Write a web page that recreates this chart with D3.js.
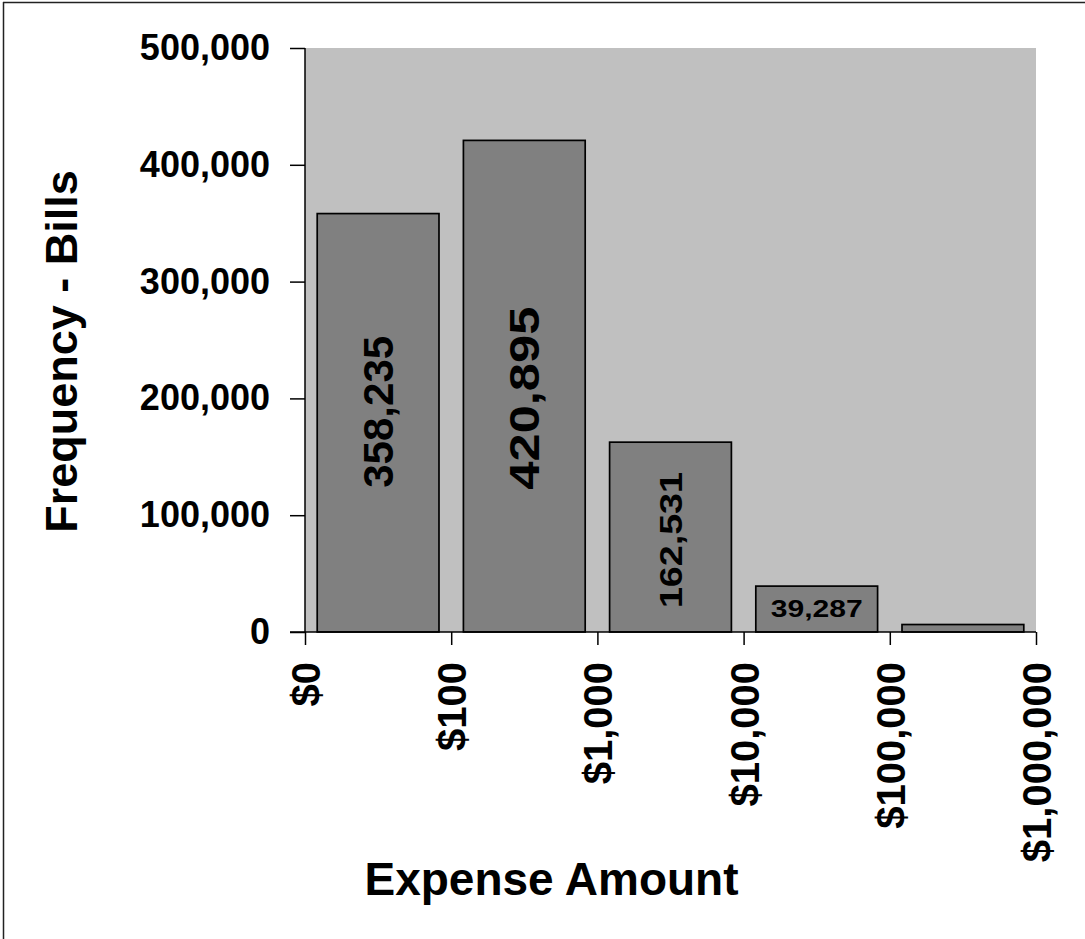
<!DOCTYPE html>
<html>
<head>
<meta charset="utf-8">
<script src="https://cdn.jsdelivr.net/npm/d3@7"></script>
<style>
  html, body { margin: 0; padding: 0; background: #fff; }
  svg { display: block; }
  text { font-family: "Liberation Sans", Arial, sans-serif; font-weight: bold; fill: #000; }
</style>
</head>
<body>
<script>
// ---- Data ----
const categories = ["$0-$100", "$100-$1,000", "$1,000-$10,000", "$10,000-$100,000", "$100,000-$1,000,000"];
const billCounts = [358235, 420895, 162531, 39287, 6400];
const barLabels = ["358,235", "420,895", "162,531", "39,287", ""];
const xTickLabels = ["$0", "$100", "$1,000", "$10,000", "$100,000", "$1,000,000"];
const yTickValues = [0, 100000, 200000, 300000, 400000, 500000];

// ---- Layout ----
const W = 1085, H = 939;
const plot = { left: 305, right: 1036, top: 48, bottom: 632 };
// label styling (font size, rendered length, orientation, vertical nudge)
const labelStyle = [
  { size: 42, len: 152, rotate: true, shift: -11 },
  { size: 42, len: 183, rotate: true, shift: 12 },
  { size: 32, len: 136, rotate: true, shift: 3 },
  { size: 23, len: 92, rotate: false, shift: 0 },
  { size: 20, len: 0, rotate: false, shift: 0 }
];

const svg = d3.select("body").append("svg").attr("width", W).attr("height", H);

// outer frame (top & left visible)
svg.append("line").attr("x1", 3).attr("y1", 2.5).attr("x2", W).attr("y2", 2.5)
  .attr("stroke", "#222").attr("stroke-width", 1.5);
svg.append("line").attr("x1", 3.5).attr("y1", 2).attr("x2", 3.5).attr("y2", H)
  .attr("stroke", "#222").attr("stroke-width", 1.5);

const x = d3.scaleBand().domain(categories).range([plot.left, plot.right])
  .paddingInner(0.167).paddingOuter(0.0835);
const y = d3.scaleLinear().domain([0, 500000]).range([plot.bottom, plot.top]);
const xTicks = d3.scalePoint().domain(xTickLabels).range([plot.left, plot.right]).padding(0);

// plot background
svg.append("rect").attr("x", plot.left).attr("y", plot.top)
  .attr("width", plot.right - plot.left).attr("height", plot.bottom - plot.top)
  .attr("fill", "#c0c0c0");

// bars
svg.selectAll("rect.bar").data(categories).join("rect")
  .attr("class", "bar")
  .attr("x", d => x(d))
  .attr("y", (d, i) => y(billCounts[i]))
  .attr("width", x.bandwidth())
  .attr("height", (d, i) => y(0) - y(billCounts[i]))
  .attr("fill", "#808080")
  .attr("stroke", "#000")
  .attr("stroke-width", 1.7);

// bar labels
categories.forEach((c, i) => {
  if (!barLabels[i]) return;
  const st = labelStyle[i];
  const cx = x(c) + x.bandwidth() / 2;
  const cy = (y(billCounts[i]) + y(0)) / 2 + st.shift;
  const t = svg.append("text")
    .attr("transform", `translate(${cx},${cy})` + (st.rotate ? " rotate(-90)" : ""))
    .attr("text-anchor", "middle")
    .attr("dy", "0.36em")
    .style("font-size", st.size + "px")
    .text(barLabels[i]);
  if (st.len) t.attr("textLength", st.len).attr("lengthAdjust", "spacingAndGlyphs");
});

// y axis
const yAxis = svg.append("g").attr("transform", `translate(${plot.left},0)`)
  .call(d3.axisLeft(y).tickValues(yTickValues).tickFormat(d3.format(",")).tickSize(15).tickPadding(20));
yAxis.select(".domain").attr("stroke", "#000").attr("stroke-width", 1.5).attr("d", `M0,${plot.top}V${plot.bottom}`);
yAxis.selectAll(".tick line").attr("stroke", "#000").attr("stroke-width", 1.5);
yAxis.selectAll(".tick text").style("font-size", "36px").style("font-family", "Liberation Sans, Arial, sans-serif").attr("font-weight", "bold");

// x axis (boundary ticks)
const xAxis = svg.append("g").attr("transform", `translate(0,${plot.bottom})`)
  .call(d3.axisBottom(xTicks).tickSize(13).tickSizeOuter(0));
xAxis.select(".domain").attr("stroke", "#000").attr("stroke-width", 1.5).attr("d", `M${plot.left - 15},0H${plot.right}`);
xAxis.selectAll(".tick line").attr("stroke", "#000").attr("stroke-width", 1.5);
xAxis.selectAll(".tick text")
  .attr("transform", "translate(0,30) rotate(-90)")
  .attr("x", 0).attr("y", 0).attr("dy", "0.36em")
  .attr("text-anchor", "end")
  .style("font-size", "40px").style("font-family", "Liberation Sans, Arial, sans-serif").attr("font-weight", "bold");

// axis titles
svg.append("text").attr("x", 551.5).attr("y", 895).attr("text-anchor", "middle")
  .style("font-size", "46px").text("Expense Amount");
svg.append("text").attr("transform", "translate(77,351.5) rotate(-90)")
  .attr("text-anchor", "middle").style("font-size", "45px").text("Frequency - Bills");
</script>
</body>
</html>
